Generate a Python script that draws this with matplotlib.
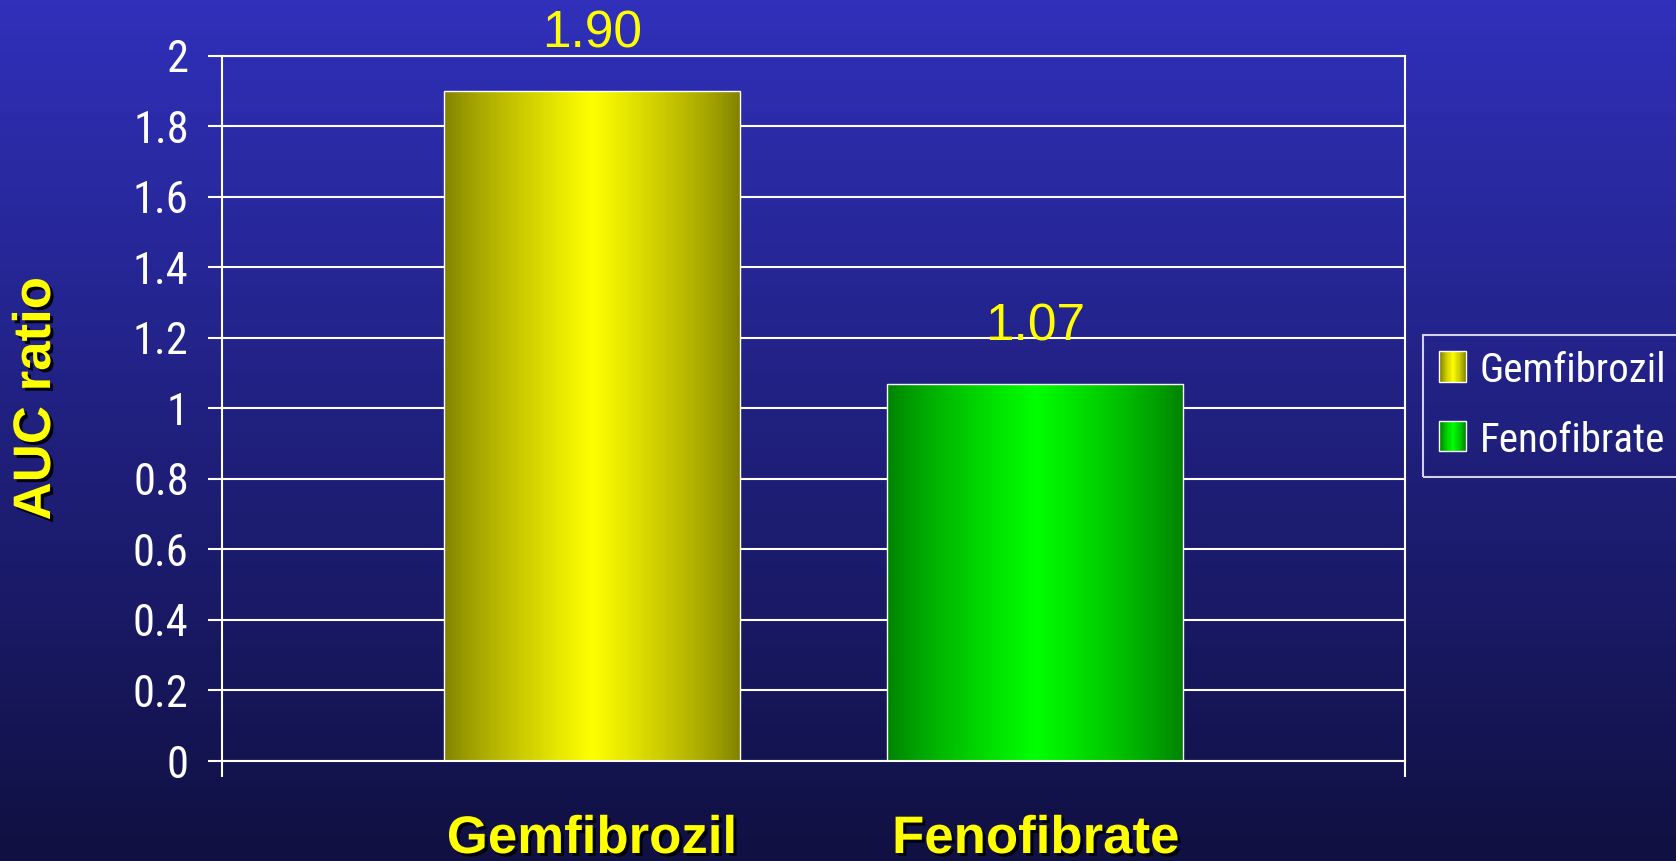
import matplotlib

matplotlib.use("Agg")
import matplotlib.patheffects as pe
import matplotlib.pyplot as plt
import numpy as np
from matplotlib import font_manager
from matplotlib.colors import LinearSegmentedColormap
from matplotlib.patches import Rectangle
from matplotlib.ticker import FuncFormatter, MultipleLocator

# 資料
series = ["Gemfibrozil", "Fenofibrate"]
auc_ratio = [1.90, 1.07]
value_labels = ["1.90", "1.07"]
edge_colors = ["#808000", "#008000"]
center_colors = ["#ffff00", "#00ff00"]
y_label = "AUC ratio"

# 找一個窄字型（Arial Narrow 的替代品）
installed = {f.name for f in font_manager.fontManager.ttflist}
narrow_candidates = ["Liberation Sans Narrow", "Roboto Condensed", "Open Sans Condensed",
                     "Noto Sans Condensed"]
narrow = [f for f in narrow_candidates if f in installed]
if narrow:
    NARROW = [narrow[0], "DejaVu Sans"]
    tick_size, legend_size = 32, 29.5
else:
    NARROW = ["Liberation Sans", "DejaVu Sans"]
    tick_size, legend_size = 30, 26
BOLD = ["Liberation Sans", "DejaVu Sans"]
YELLOW = "#ffff00"
shadow = [pe.SimplePatchShadow(offset=(2.2, -2.2), shadow_rgbFace="black", alpha=0.9), pe.Normal()]


def bar_cmap(edge, center):
    return LinearSegmentedColormap.from_list("g", [edge, center, edge])


def gradient_row(n=256):
    # 0 -> 邊緣色, 0.5 -> 中心最亮, 1 -> 邊緣色
    t = np.linspace(0, 1, n)
    v = (1 - np.abs(2 * t - 1)) ** 0.8
    return (0.5 + 0.5 * np.where(t < 0.5, v - 1, 1 - v)).reshape(1, -1)


class GradientHandler:
    """legend 小方塊也畫漸層"""

    def __init__(self, edge, center):
        self.cmap = bar_cmap(edge, center)

    def legend_artist(self, legend, orig_handle, fontsize, handlebox):
        x0, y0 = handlebox.xdescent, handlebox.ydescent
        w, h = handlebox.width, handlebox.height
        n = 24
        row = gradient_row(n)[0]
        for i in range(n):
            r = Rectangle((x0 + w * i / n, y0), w / n + 0.3, h, facecolor=self.cmap(row[i]),
                          edgecolor="none", transform=handlebox.get_transform())
            handlebox.add_artist(r)
        frame = Rectangle((x0, y0), w, h, facecolor="none", edgecolor="white", lw=1.0,
                          transform=handlebox.get_transform())
        handlebox.add_artist(frame)
        return frame


fig = plt.figure(figsize=(16.76, 8.61), dpi=100)

# 背景漸層
bg = fig.add_axes([0, 0, 1, 1], zorder=-10)
bg_cmap = LinearSegmentedColormap.from_list("bg", ["#101042", "#3030bb"])
bg.imshow(np.linspace(0, 1, 256).reshape(-1, 1), aspect="auto", cmap=bg_cmap, origin="lower",
          extent=(0, 1, 0, 1))
bg.axis("off")

ax = fig.add_axes([222 / 1676, 1 - 761 / 861, (1405 - 222) / 1676, (761 - 55.6) / 861])
ax.set_facecolor("none")

n = len(series)
bar_w, step = 0.25, 0.375
xs = [0.5 + (i - (n - 1) / 2) * step for i in range(n)]

bars = ax.bar(xs, auc_ratio, width=bar_w, facecolor="none", edgecolor="white", lw=1.0, zorder=3)
for rect, e, c in zip(bars, edge_colors, center_colors):
    x0 = rect.get_x()
    im = ax.imshow(gradient_row(), extent=(x0, x0 + rect.get_width(), 0, rect.get_height()),
                   aspect="auto", cmap=bar_cmap(e, c), vmin=0, vmax=1, zorder=2)
    im.set_clip_path(rect)

# 數值標籤
for x, v, lab in zip(xs, auc_ratio, value_labels):
    ax.annotate(lab, (x, v), xytext=(0, 31), textcoords="offset points", ha="center",
                va="baseline", color=YELLOW, fontsize=37, family=BOLD)

ax.set_xlim(0, 1)
ax.set_ylim(0, 2)
ax.yaxis.set_major_locator(MultipleLocator(0.2))
ax.yaxis.set_major_formatter(FuncFormatter(lambda v, p: f"{round(v, 1):g}"))
ax.yaxis.grid(True, color="white", lw=1.5)
ax.set_axisbelow(True)
for s in ax.spines.values():
    s.set_color("white")
    s.set_linewidth(1.5)

ax.set_xticks([0, 1])
ax.set_xticklabels([])
ax.tick_params(axis="x", length=11.5, width=1.5, color="white")
ax.tick_params(axis="y", length=10, width=1.5, color="white", pad=14, labelcolor="white",
               labelsize=tick_size)
for t in ax.get_yticklabels():
    t.set_family(NARROW)

# 類別名稱（粗體黃字加陰影）
for x, name in zip(xs, series):
    fx = ax.transData.transform((x, 0))[0] / fig.bbox.width
    fig.text(fx, 1 - 853 / 861, name, ha="center", va="baseline", fontsize=38,
             fontweight="bold", color=YELLOW, family=BOLD, path_effects=shadow)

fig.text(36 / 1676, 1 - 399 / 861, y_label, rotation=90, ha="center", va="center", fontsize=38,
         fontweight="bold", color=YELLOW, family=BOLD, path_effects=shadow)

# 圖例：方塊大小用像素換算成字級倍數
fs_px = legend_size * 100 / 72
handles = [Rectangle((0, 0), 1, 1) for _ in series]
leg = fig.legend(handles, series, loc="upper left", bbox_to_anchor=(1423 / 1676, 1 - 335 / 861),
                 borderaxespad=0, frameon=True, fancybox=False, edgecolor="white", facecolor="none",
                 prop={"family": NARROW, "size": legend_size}, labelcolor="white",
                 handlelength=27 / fs_px, handleheight=31 / fs_px, handletextpad=13 / fs_px,
                 labelspacing=0.75, borderpad=0.4,
                 handler_map={h: GradientHandler(e, c) for h, e, c in zip(handles, edge_colors, center_colors)})
leg.get_frame().set_linewidth(1.5)

fig.savefig("out.png", dpi=100)
